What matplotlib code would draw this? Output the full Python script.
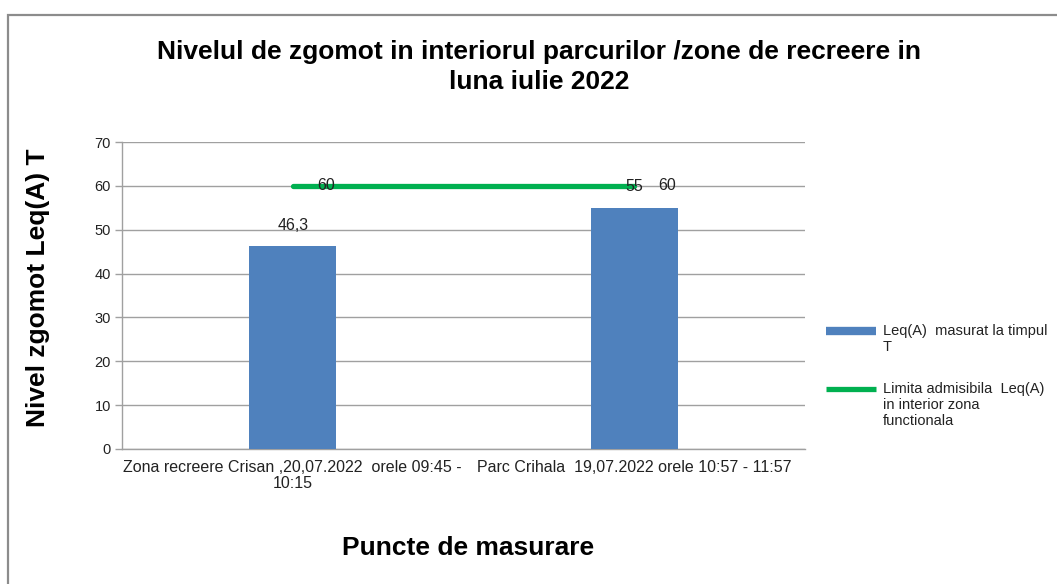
import matplotlib
matplotlib.use("Agg")
import matplotlib.pyplot as plt
from matplotlib.patches import Rectangle
from matplotlib.lines import Line2D

categories = ["Zona recreere Crisan ,20,07.2022  orele 09:45 -\n10:15",
              "Parc Crihala  19,07.2022 orele 10:57 - 11:57"]
measured = [46.3, 55]
limit = [60, 60]
measured_labels = ["46,3", "55"]
limit_labels = ["60", "60"]
yticks = [0, 10, 20, 30, 40, 50, 60, 70]
series_names = ["Leq(A)  masurat la timpul\nT",
                "Limita admisibila  Leq(A)\nin interior zona\nfunctionala"]

plt.rcParams['font.family'] = ['Liberation Sans', 'DejaVu Sans']

W, H = 1057, 584
fig = plt.figure(figsize=(W/100, H/100), dpi=100)
# outer chart border (extends beyond canvas)
fig.patches.append(Rectangle((8/W, -0.1), 1.2, (H-15)/H + 0.1, transform=fig.transFigure,
                             fill=False, edgecolor='#8c8c8c', linewidth=1.6))

ax = fig.add_axes([122/W, (H-449)/H, (805-122)/W, (449-142)/H])
x = list(range(len(categories)))
bar_color = '#4f81bd'
line_color = '#00b050'
ax.bar(x, measured, width=0.255, color=bar_color, zorder=3)
ax.plot(x, limit, color=line_color, linewidth=3.8, solid_capstyle='round', zorder=4)

for xi, v, lab in zip(x, measured, measured_labels):
    ax.annotate(lab, (xi, v), xytext=(0, 15), textcoords='offset points',
                ha='center', va='center', fontsize=11.5, color='#222222', zorder=5)
for xi, v, lab in zip(x, limit, limit_labels):
    ax.annotate(lab, (xi, v), xytext=(24, 0), textcoords='offset points',
                ha='center', va='center', fontsize=11.5, color='#222222', zorder=5)

ax.set_xlim(-0.5, 1.5)
ax.set_ylim(0, 70)
ax.set_yticks(yticks)
ax.set_xticks(x)
ax.set_xticklabels(categories, fontsize=11.5, color='#222222', linespacing=1.05)
ax.tick_params(axis='y', labelsize=10.5, colors='#222222', length=5, width=1, color='#a0a0a0', pad=3)
ax.tick_params(axis='x', length=0, pad=8)
ax.grid(axis='y', color='#a0a0a0', linewidth=1, zorder=0)
for s in ['top', 'right']:
    ax.spines[s].set_visible(False)
for s in ['left', 'bottom']:
    ax.spines[s].set_color('#a0a0a0')
    ax.spines[s].set_linewidth(1)

fig.text(539/W, 1 - 67/H, "Nivelul de zgomot in interiorul parcurilor /zone de recreere in\nluna iulie 2022",
         ha='center', va='center', fontsize=19, fontweight='bold', linespacing=1.3)
fig.text(38/W, 1 - 288/H, "Nivel zgomot Leq(A) T", rotation=90, ha='center', va='center',
         fontsize=19, fontweight='bold')
fig.text(468/W, 1 - 548/H, "Puncte de masurare", ha='center', va='center',
         fontsize=19, fontweight='bold')

# legend: handle aligned with the first line of each label
leg_items = [(331, bar_color, 6), (389, line_color, 3.8)]
for (yc, col, lw), name in zip(leg_items, series_names):
    fig.add_artist(Line2D([826/W, 876/W], [1 - yc/H, 1 - yc/H], transform=fig.transFigure,
                          color=col, linewidth=lw, solid_capstyle='butt'))
    fig.text(883/W, 1 - (yc - 7)/H, name, ha='left', va='top', fontsize=10.5,
             color='#222222', linespacing=1.2)

fig.savefig("out.png", dpi=100)
